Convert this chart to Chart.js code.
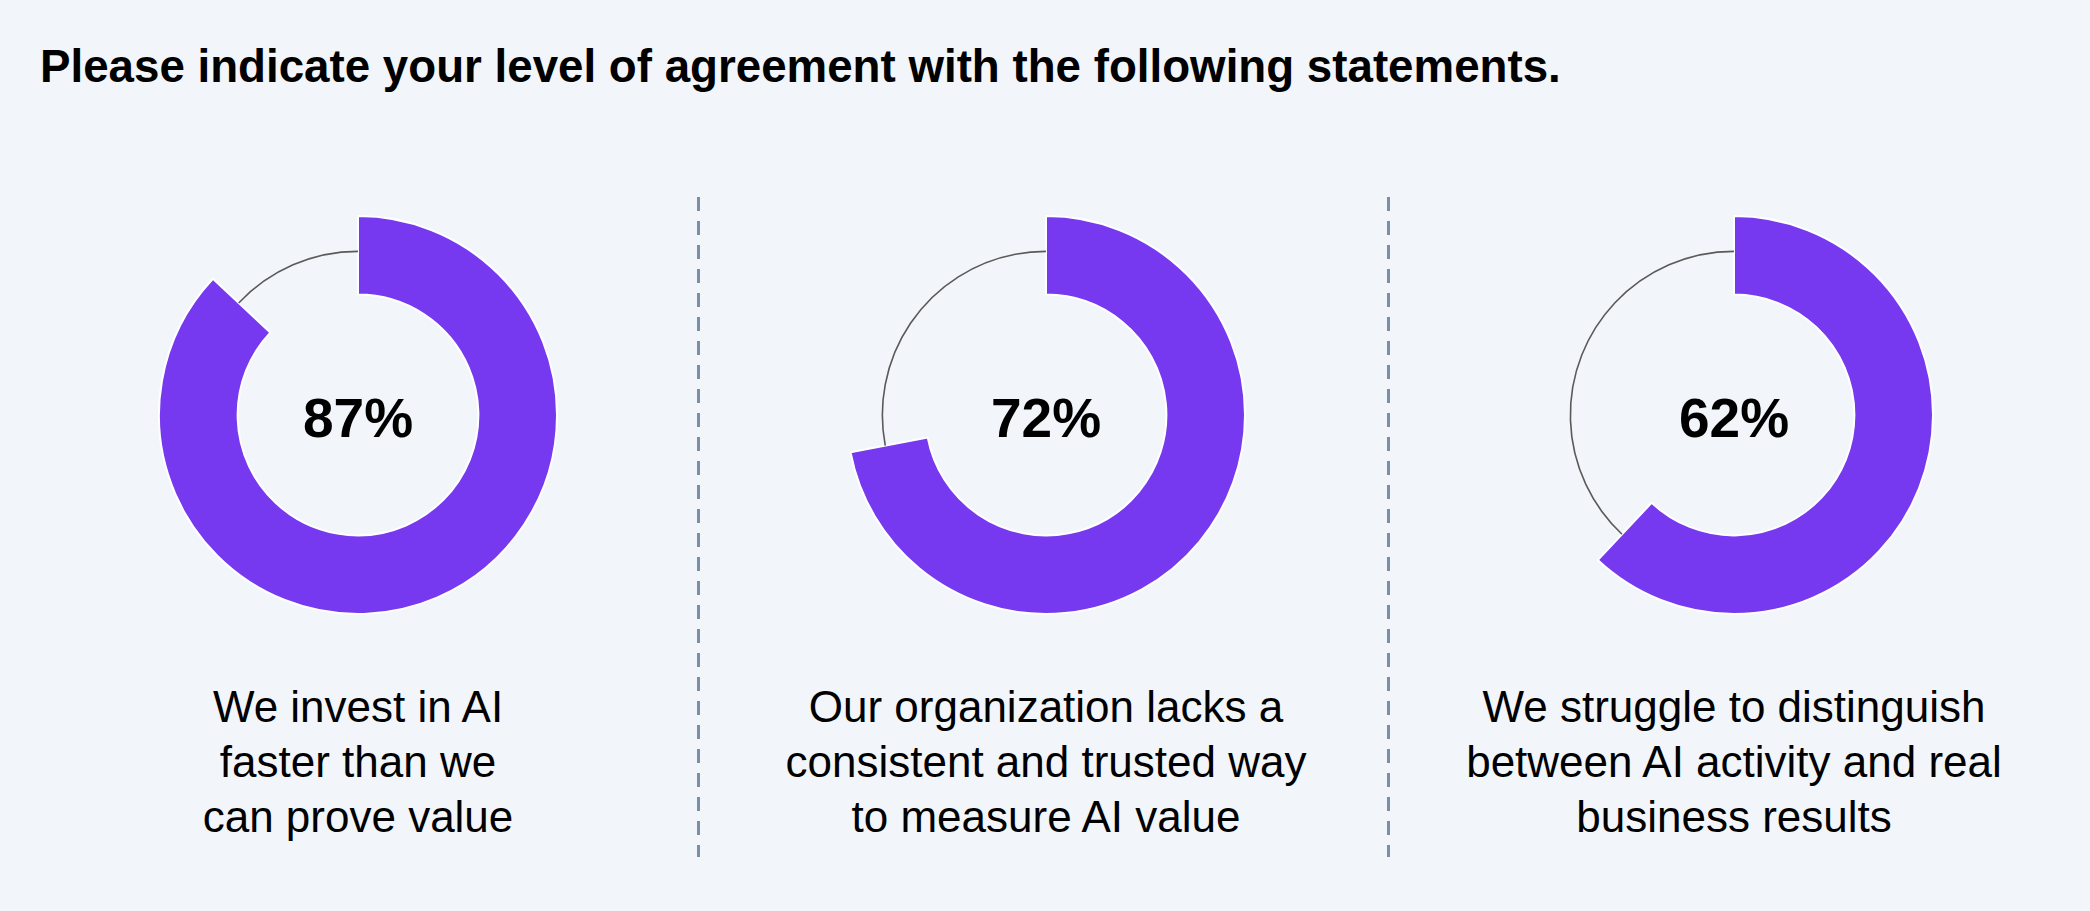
<!DOCTYPE html>
<html>
<head>
<meta charset="utf-8">
<script src="https://cdn.jsdelivr.net/npm/chart.js@4/dist/chart.umd.min.js"></script>
<style>
  html, body { margin: 0; padding: 0; }
  body {
    width: 2090px; height: 911px; position: relative; overflow: hidden;
    background: #f2f5f9;
    font-family: "Liberation Sans", Arial, Helvetica, sans-serif;
  }
  h1 {
    position: absolute; left: 40px; top: 41px; margin: 0;
    font-size: 45.7px; line-height: 52px; font-weight: bold; color: #000;
    white-space: nowrap;
  }
  .donut { position: absolute; top: 215px; width: 400px; height: 400px; }
  .caption {
    position: absolute; top: 679px; width: 640px;
    font-size: 44px; line-height: 55px; text-align: center; color: #000;
  }
  .divider {
    position: absolute; top: 197px; height: 660px; width: 3px;
    background: repeating-linear-gradient(to bottom, #7a8eaa 0 14px, transparent 14px 24px);
  }
</style>
</head>
<body>
<h1 id="title"></h1>
<div id="page"></div>

<script>
// ============================================================= data

let titleText = "Please indicate your level of agreement with the following statements.";
let statements = [
  ["We invest in AI", "faster than we", "can prove value"],
  ["Our organization lacks a", "consistent and trusted way", "to measure AI value"],
  ["We struggle to distinguish", "between AI activity and real", "business results"]
];
let agreePct = [87, 72, 62];
let segmentLabels = ["Agree", "Other"];

// ============================================================= layout

let colCenters = [358, 1046, 1734];
let dividerX = [698, 1388];
let purple = "#7739f0";

document.getElementById("title").textContent = titleText;
let page = document.getElementById("page");

dividerX.forEach(function (x) {
  let d = document.createElement("div");
  d.className = "divider";
  d.style.left = (x - 1) + "px";
  page.appendChild(d);
});

// draws the thin grey arc for the remainder + the % in the middle
let donutExtras = {
  id: "donutExtras",
  afterDatasetsDraw: function (chart, args, opts) {
    let ctx = chart.ctx;
    let meta = chart.getDatasetMeta(0);
    let rest = meta.data[1];
    let p = rest.getProps(["x", "y", "startAngle", "endAngle", "innerRadius", "outerRadius"], true);
    let r = p.innerRadius + 0.55 * (p.outerRadius - p.innerRadius);
    ctx.save();
    ctx.beginPath();
    ctx.arc(p.x, p.y, r, p.startAngle, p.endAngle);
    ctx.strokeStyle = "#5a5a5a";
    ctx.lineWidth = 1.6;
    ctx.stroke();

    ctx.fillStyle = "#000";
    ctx.font = "bold 55px 'Liberation Sans', Arial, sans-serif";
    ctx.textAlign = "center";
    ctx.textBaseline = "middle";
    ctx.fillText(opts.text, p.x, p.y + 7);
    ctx.restore();
  }
};

agreePct.forEach(function (pct, i) {
  let wrap = document.createElement("div");
  wrap.className = "donut";
  wrap.style.left = (colCenters[i] - 200) + "px";
  let canvas = document.createElement("canvas");
  canvas.width = 400;
  canvas.height = 400;
  wrap.appendChild(canvas);
  page.appendChild(wrap);

  let cap = document.createElement("div");
  cap.className = "caption";
  cap.style.left = (colCenters[i] - 320) + "px";
  cap.innerHTML = statements[i].join("<br>");
  page.appendChild(cap);

  // DOUGHNUT GRAPH
  new Chart(canvas, {
    type: "doughnut",
    data: {
      labels: segmentLabels,
      datasets: [{
        data: [pct, 100 - pct],
        backgroundColor: [purple, "rgba(0,0,0,0)"],
        borderColor: ["#ffffff", "rgba(0,0,0,0)"],
        borderWidth: [2, 0]
      }]
    },
    options: {
      responsive: false,
      animation: false,
      cutout: "60.5%",
      plugins: {
        legend: { display: false },
        tooltip: { enabled: false },
        donutExtras: { text: pct + "%" }
      }
    },
    plugins: [donutExtras]
  });
});
</script>
</body>
</html>
